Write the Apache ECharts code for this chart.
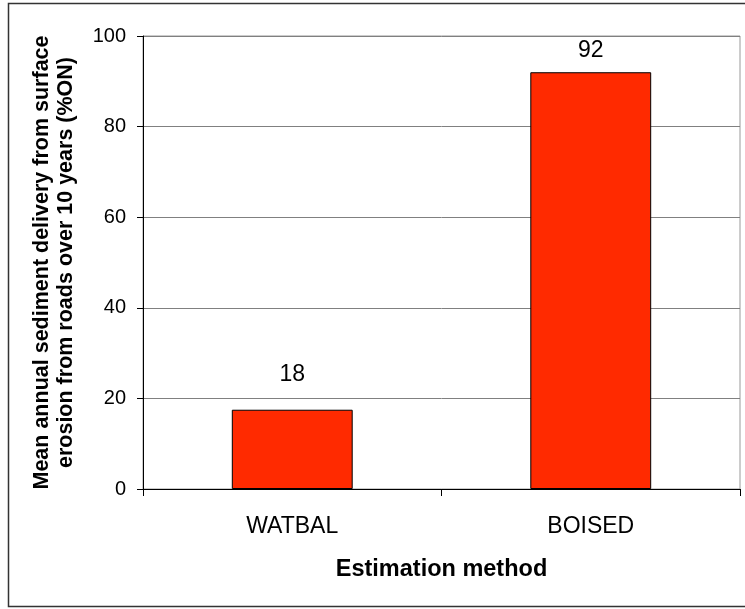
<!DOCTYPE html>
<html>
<head>
<meta charset="utf-8">
<script src="https://cdn.jsdelivr.net/npm/echarts@6/dist/echarts.min.js"></script>
<style>html,body{margin:0;padding:0;background:#fff}#c{width:745px;height:609px}</style>
</head>
<body>
<div id="c"></div>
<script>
const categories = ['WATBAL', 'BOISED'];
const values = [17.5, 92];
const valueLabels = ['18', '92'];
const labelGaps = [24, 10];
const yTicks = [0, 20, 40, 60, 80, 100];

const chart = echarts.init(document.getElementById('c'));
const font = '"Liberation Sans", Arial, sans-serif';
chart.setOption({
  animation: false,
  backgroundColor: '#fff',
  textStyle: { fontFamily: font },
  graphic: [{
    type: 'rect', shape: { x: 8.5, y: 3.5, width: 760, height: 603 },
    style: { fill: 'none', stroke: '#333', lineWidth: 1.5 }, silent: true, z: 100
  }],
  grid: { left: 143, top: 36, right: 5, bottom: 120, show: true, borderColor: '#999', borderWidth: 1, backgroundColor: 'transparent' },
  xAxis: {
    type: 'category', data: categories,
    name: 'Estimation method', nameLocation: 'middle', nameGap: 69,
    nameTextStyle: { fontSize: 23.5, fontWeight: 'bold', color: '#000', fontFamily: font },
    axisLine: { lineStyle: { color: '#000', width: 1 } },
    axisTick: { show: true, length: 7, lineStyle: { color: '#000' } },
    axisLabel: { fontSize: 23, color: '#000', margin: 26, fontFamily: font }
  },
  yAxis: {
    type: 'value', min: yTicks[0], max: yTicks[yTicks.length - 1], interval: 20,
    name: 'Mean annual sediment delivery from surface\nerosion from roads over 10 years (%ON)',
    nameLocation: 'middle', nameGap: 65,
    nameTextStyle: { fontSize: 21.5, fontWeight: 'bold', color: '#000', lineHeight: 24, fontFamily: font },
    axisLine: { show: true, lineStyle: { color: '#000', width: 1 } },
    axisTick: { show: true, length: 6, lineStyle: { color: '#000' } },
    axisLabel: { fontSize: 20, color: '#000', margin: 17, fontFamily: font },
    splitLine: { show: true, lineStyle: { color: '#808080', width: 1 } }
  },
  series: [{
    type: 'bar',
    barWidth: '40.5%',
    data: values.map((v, i) => ({ value: v, label: { distance: labelGaps[i] } })),
    itemStyle: { color: '#ff2a00', borderColor: '#000', borderWidth: 1 },
    label: {
      show: true, position: 'top', fontSize: 23, color: '#000', fontFamily: font,
      formatter: p => valueLabels[p.dataIndex]
    }
  }]
});
</script>
</body>
</html>
